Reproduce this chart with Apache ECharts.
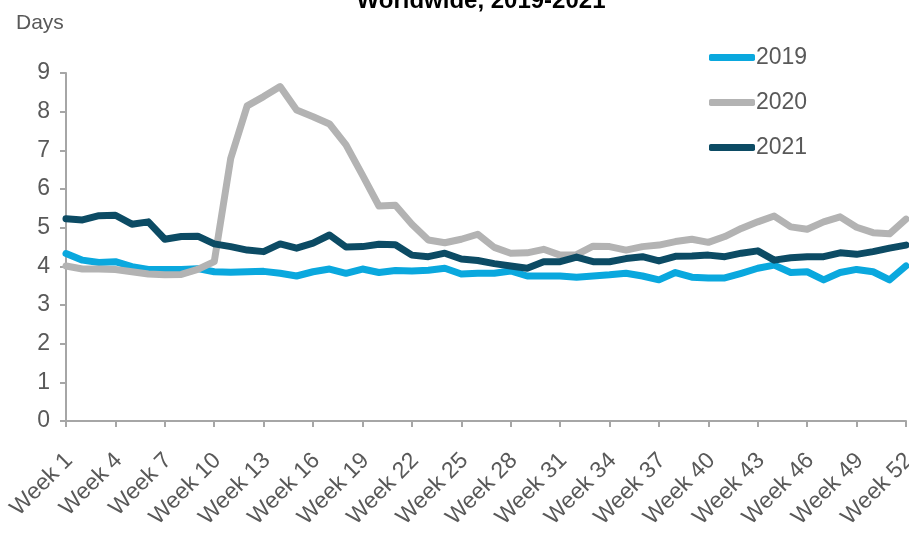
<!DOCTYPE html>
<html>
<head>
<meta charset="utf-8">
<title>Worldwide, 2019-2021</title>
<script src="https://cdn.jsdelivr.net/npm/echarts@6/dist/echarts.min.js"></script>
<style>
  html, body { margin: 0; padding: 0; background: #fff; }
  #chart { width: 909px; height: 537px; }
</style>
</head>
<body>
<div id="chart"></div>
<script>
// 数据：每周天数
const weeks = [];
for (let i = 1; i <= 52; i++) weeks.push('Week ' + i);

const years = ['2019', '2020', '2021'];

const days2019 = [
    4.33, 4.16, 4.10, 4.12, 3.99, 3.92, 3.92, 3.92, 3.94, 3.86,
    3.85, 3.86, 3.87, 3.82, 3.75, 3.86, 3.93, 3.82, 3.93, 3.84,
    3.89, 3.88, 3.90, 3.95, 3.80, 3.82, 3.82, 3.88, 3.75, 3.75,
    3.75, 3.72, 3.75, 3.78, 3.82, 3.75, 3.65, 3.84, 3.72, 3.70,
    3.70, 3.82, 3.95, 4.03, 3.84, 3.86, 3.65, 3.84, 3.92, 3.86,
    3.65, 4.01
];

const days2020 = [
    4.01, 3.93, 3.93, 3.92, 3.86, 3.80, 3.78, 3.79, 3.92, 4.12,
    6.79, 8.15, 8.39, 8.65, 8.04, 7.87, 7.68, 7.14, 6.36, 5.56,
    5.58, 5.09, 4.68, 4.61, 4.70, 4.83, 4.49, 4.34, 4.35, 4.44,
    4.29, 4.30, 4.52, 4.51, 4.42, 4.51, 4.55, 4.64, 4.70, 4.62,
    4.77, 4.98, 5.15, 5.30, 5.02, 4.96, 5.15, 5.28, 5.01, 4.87,
    4.84, 5.22
];

const days2021 = [
    5.23, 5.20, 5.31, 5.32, 5.09, 5.15, 4.70, 4.77, 4.78, 4.58,
    4.51, 4.42, 4.38, 4.58, 4.47, 4.60, 4.81, 4.50, 4.51, 4.57,
    4.56, 4.29, 4.25, 4.34, 4.19, 4.15, 4.07, 4.01, 3.95, 4.12,
    4.12, 4.24, 4.12, 4.12, 4.20, 4.25, 4.14, 4.26, 4.27, 4.29,
    4.25, 4.34, 4.40, 4.16, 4.22, 4.25, 4.25, 4.35, 4.31, 4.38,
    4.47, 4.55
];

const COLORS = ['#0AA8DE', '#B3B3B3', '#0C4B64'];
const FONT = '"Liberation Sans", Arial, sans-serif';
const TEXT_GREY = '#595959';
const AXIS_GREY = '#A6A6A6';

function makeSeries(name, data, color) {
    return {
        name: name,
        type: 'line',
        data: data,
        symbol: 'none',
        smooth: false,
        lineStyle: { color: color, width: 7, cap: 'round', join: 'round' },
        itemStyle: { color: color }
    };
}

const chart = echarts.init(document.getElementById('chart'), null, { renderer: 'canvas' });
chart.setOption({
    animation: false,
    backgroundColor: '#fff',
    color: COLORS,
    graphic: [
        {
            type: 'text', x: 481, y: 13,
            style: {
                text: 'Worldwide, 2019-2021', fill: '#000',
                font: 'bold 24px ' + FONT,
                textAlign: 'center', textVerticalAlign: 'bottom'
            }
        },
        {
            type: 'text', x: 16, y: 13,
            style: { text: 'Days', fill: TEXT_GREY, font: '21px ' + FONT }
        }
    ],
    legend: {
        data: years,
        orient: 'vertical',
        left: 704,
        top: 41,
        itemWidth: 46,
        itemHeight: 7,
        itemGap: 22,
        icon: 'roundRect',
        textStyle: { color: TEXT_GREY, fontSize: 23, fontFamily: FONT, padding: [0, 0, 0, -4] }
    },
    grid: { left: 66, right: 3, top: 73, bottom: 116, containLabel: false, outerBoundsMode: 'none' },
    xAxis: {
        type: 'category',
        data: weeks,
        boundaryGap: false,
        axisLine: { lineStyle: { color: AXIS_GREY, width: 2 } },
        axisTick: { show: true, interval: 2, length: 6, lineStyle: { color: AXIS_GREY, width: 2 } },
        axisLabel: {
            interval: 2, rotate: 45, margin: 23, verticalAlign: 'top', padding: [0, 7, 0, 0],
            color: TEXT_GREY, fontSize: 23, fontFamily: FONT
        },
        splitLine: { show: false }
    },
    yAxis: {
        type: 'value',
        min: 0, max: 9, interval: 1,
        axisLine: { show: true, lineStyle: { color: AXIS_GREY, width: 2 } },
        axisTick: { show: true, length: 6, lineStyle: { color: AXIS_GREY, width: 2 } },
        axisLabel: { color: TEXT_GREY, fontSize: 23, fontFamily: FONT, margin: 16 },
        splitLine: { show: false }
    },
    series: [
        makeSeries('2019', days2019, COLORS[0]),
        makeSeries('2020', days2020, COLORS[1]),
        makeSeries('2021', days2021, COLORS[2])
    ]
});
</script>
</body>
</html>
